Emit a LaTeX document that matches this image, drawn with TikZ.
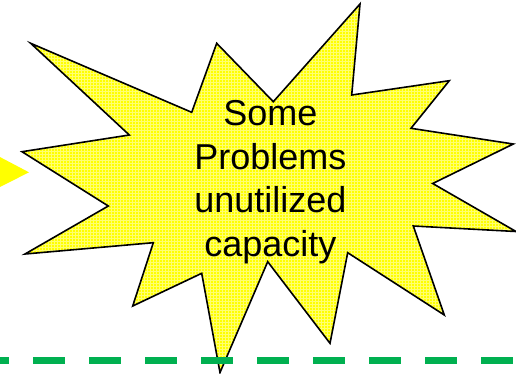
\documentclass[tikz,border=0pt]{standalone}
\usepackage{fontspec}
\setmainfont{Liberation Sans}
\usepackage{xcolor}
\usetikzlibrary{patterns}
\definecolor{burstyellow}{HTML}{FFFF00}
\definecolor{gridyellow}{HTML}{FFFF70}
\definecolor{lanegreen}{HTML}{00B050}

\begin{document}
\begin{tikzpicture}[x=1pt, y=-1pt]
        \useasboundingbox (0,0) rectangle (516,373);
        % pointer on the left
        \fill[color=burstyellow] (-2,156) -- (29,172.3) -- (-2,188) -- cycle;
        % the burst
        \fill[color=burstyellow] (30.7,43.3) -- (191.7,112.3) -- (216.7,43.3) -- (273.3,101.7)
            -- (360,4) -- (351.7,95) -- (449.3,80.7) -- (411,128.3) -- (513.3,144)
            -- (432.7,183.5) -- (516,231.5) -- (413.3,226) -- (444.3,315) -- (347.7,252.7)
            -- (330,343.3) -- (267.7,261.7) -- (220,372.5) -- (201.7,273.3) -- (132.7,306)
            -- (153.3,242.7) -- (25,254) -- (108.3,206) -- (22,151.7) -- (129.3,135) -- cycle;
        \fill[pattern=grid, pattern color=gridyellow] (30.7,43.3) -- (191.7,112.3) -- (216.7,43.3) -- (273.3,101.7)
            -- (360,4) -- (351.7,95) -- (449.3,80.7) -- (411,128.3) -- (513.3,144)
            -- (432.7,183.5) -- (516,231.5) -- (413.3,226) -- (444.3,315) -- (347.7,252.7)
            -- (330,343.3) -- (267.7,261.7) -- (220,372.5) -- (201.7,273.3) -- (132.7,306)
            -- (153.3,242.7) -- (25,254) -- (108.3,206) -- (22,151.7) -- (129.3,135) -- cycle;
        \draw[line width=1.6pt, line join=miter] (30.7,43.3) -- (191.7,112.3) -- (216.7,43.3) -- (273.3,101.7)
            -- (360,4) -- (351.7,95) -- (449.3,80.7) -- (411,128.3) -- (513.3,144)
            -- (432.7,183.5) -- (516,231.5) -- (413.3,226) -- (444.3,315) -- (347.7,252.7)
            -- (330,343.3) -- (267.7,261.7) -- (220,372.5) -- (201.7,273.3) -- (132.7,306)
            -- (153.3,242.7) -- (25,254) -- (108.3,206) -- (22,151.7) -- (129.3,135) -- cycle;
        \node[align=center, inner sep=0pt, font=\fontsize{36}{43.5}\selectfont] (problems) at (270.3,182.3)
            {Some\\Problems\\unutilized\\capacity};
        % boundary line
        \coordinate (laneW) at (0,360.5);
        \coordinate (laneE) at (516,360.5);
        \draw[color=lanegreen, line width=7.5pt, dash pattern=on 32pt off 24pt, dash phase=22.7pt] (laneW) -- (laneE);
    \end{tikzpicture}
\end{document}
